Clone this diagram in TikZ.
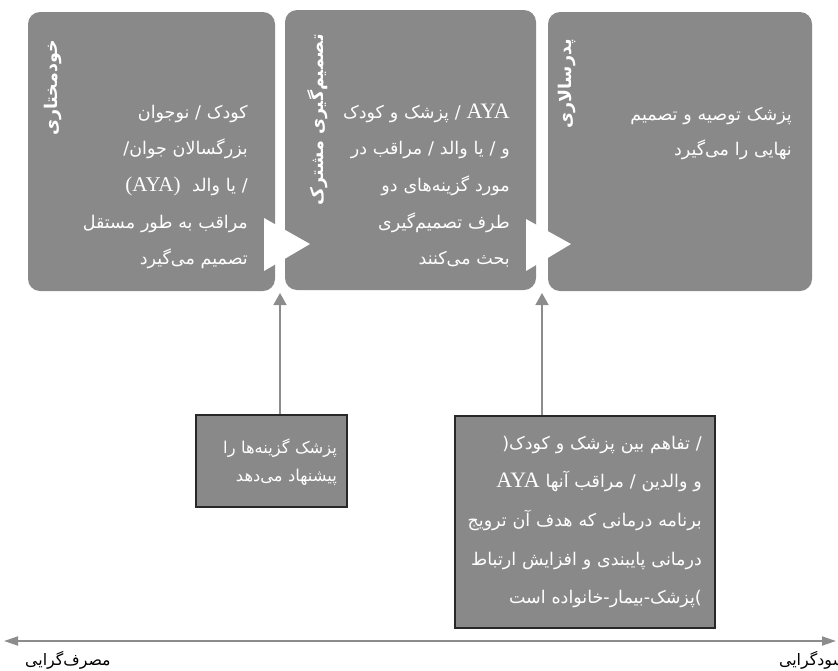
\documentclass[tikz,border=0pt]{standalone}
\usepackage{fontspec}
\usetikzlibrary{arrows.meta}
\TeXXeTstate=1
\newfontfamily\fafont[Script=Arabic]{DejaVu Sans}
\newfontfamily\latfont{Liberation Serif}
\definecolor{boxgray}{RGB}{137,137,137}
\definecolor{linegray}{RGB}{140,140,140}
\definecolor{edgedark}{RGB}{40,40,40}

\begin{document}
\begin{tikzpicture}[x=1pt,y=-1pt,
  stagebox/.style={fill=boxgray, rounded corners=12pt, inner sep=0pt},
  notebox/.style={fill=boxgray, draw=edgedark, line width=1.5pt, inner sep=0pt},
  stagetitle/.style={rotate=90, text=white, inner sep=0pt, font=\fafont\bfseries\fontsize{17.5}{20}\selectfont},
  bodytext/.style={text=white, inner sep=0pt, align=right, text width=#1, anchor=base east},
  chevron/.style={fill=white},
  conn/.style={draw=linegray, line width=1.6pt, -{Triangle[length=12pt,width=13pt]}},
  axis/.style={draw=linegray, line width=1.8pt, {Triangle[length=14pt,width=9pt]}-{Triangle[length=14pt,width=9pt]}},
  axislabel/.style={inner sep=0pt, font=\fafont\fontsize{15.8}{18}\selectfont}]

  \useasboundingbox (0,0) rectangle (838,670);
  \clip (0,0) rectangle (838,670);

  % the three decision-making stages
  \node[stagebox, minimum width=247pt, minimum height=279pt] (s1) at (151.5,151.5) {};
  \node[stagebox, minimum width=251pt, minimum height=280pt] (s2) at (410.5,150) {};
  \node[stagebox, minimum width=264pt, minimum height=279pt] (s3) at (680,151.5) {};

  % white chevrons between the stages
  \fill[chevron] (264,218) -- (264,271) -- (310,244) -- cycle;
  \fill[chevron] (526,219) -- (526,271) -- (571,244) -- cycle;

  % vertical stage titles
  \node[stagetitle] (t1) at (53,88) {\beginR خودمختاری\endR};
  \node[stagetitle] (t2) at (318,120) {\beginR تصمیم‌گیری مشترک\endR};
  \node[stagetitle] (t3) at (567,84) {\beginR پدرسالاری\endR};

  % stage descriptions
  \node[bodytext=230pt, font=\fafont\fontsize{17.5}{36.7}\selectfont] (d1) at (248,118)
    {\beginR کودک / نوجوان\endR\\
     /\beginR بزرگسالان جوان\endR\\
     {\latfont\fontsize{21}{21}\selectfont(AYA)}\ \ \beginR یا والد\endR\ /\\
     \beginR مراقب به طور مستقل\endR\\
     \beginR تصمیم می‌گیرد\endR};
  \node[bodytext=230pt, font=\fafont\fontsize{17.5}{36.7}\selectfont] (d2) at (510,118)
    {\beginR پزشک و کودک\endR\ /\ {\latfont\fontsize{22}{22}\selectfont AYA}\\
     \beginR و / یا والد / مراقب در\endR\\
     \beginR مورد گزینه‌های دو\endR\\
     \beginR طرف تصمیم‌گیری\endR\\
     \beginR بحث می‌کنند\endR};
  \node[bodytext=230pt, font=\fafont\fontsize{17.5}{35}\selectfont] (d3) at (792,120)
    {\beginR پزشک توصیه و تصمیم\endR\\
     \beginR نهایی را می‌گیرد\endR};

  % notes below the stages
  \node[notebox, minimum width=151pt, minimum height=92pt] (n1) at (271.5,461) {};
  \node[notebox, minimum width=260pt, minimum height=212pt] (n2) at (585,522) {};

  \node[bodytext=140pt, font=\fafont\fontsize{16.3}{28}\selectfont] (m1) at (337,453)
    {\beginR پزشک گزینه‌ها را\endR\\
     \beginR پیشنهاد می‌دهد\endR};
  \node[bodytext=250pt, font=\fafont\fontsize{17.5}{38.7}\selectfont] (m2) at (702,449)
    {(\beginR تفاهم بین پزشک و کودک\endR\ /\\
     {\latfont\fontsize{22}{22}\selectfont AYA}\ \beginR و والدین / مراقب آنها\endR\\
     \beginR برنامه درمانی که هدف آن ترویج\endR\\
     \beginR درمانی پایبندی و افزایش ارتباط\endR\\
     \beginR پزشک-بیمار-خانواده است\endR)};

  % pointers from the notes up to the stage boundaries
  \coordinate (p1) at (280,293);
  \coordinate (p2) at (542,293);
  \draw[conn] (n1.north -| p1) -- (p1);
  \draw[conn] (n2.north -| p2) -- (p2);

  % consumerism / paternalism axis
  \coordinate (a1) at (4,641);
  \coordinate (a2) at (836,641);
  \draw[axis] (a1) -- (a2);
  \node[axislabel, anchor=west] (l1) at (25,660) {\beginR مصرف‌گرایی\endR};
  \node[axislabel, anchor=east] (l2) at (846,660) {\beginR سودگرایی\endR};
\end{tikzpicture}
\end{document}
